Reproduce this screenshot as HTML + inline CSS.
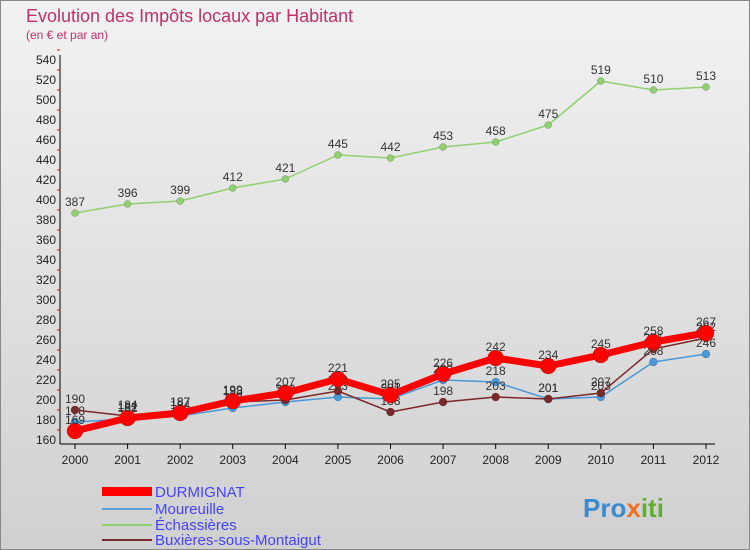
<!DOCTYPE html>
<html><head><meta charset="utf-8"><style>
body{margin:0;font-family:"Liberation Sans",sans-serif}
#c{width:750px;height:550px;position:relative;background:linear-gradient(#f2f2f2,#d0d0d0);}
</style></head><body>
<div id="c">
<svg id="s" width="750" height="550" xmlns="http://www.w3.org/2000/svg" style="position:absolute;left:0;top:0">
<rect x="0.5" y="0.5" width="749" height="549" fill="none" stroke="#888"/>
<text x="26" y="22" font-size="18" fill="#c0306a">Evolution des Impôts locaux par Habitant</text>
<text x="26" y="39" font-size="12" fill="#c0306a">(en € et par an)</text>
<g id="axes"></g><g id="series"></g>
<g>
<rect x="102" y="487" width="50" height="9" fill="#f00"/>
<text x="155" y="497" font-size="15" fill="#44f">DURMIGNAT</text>
<line x1="102" y1="509" x2="152" y2="509" stroke="#5aa0d8" stroke-width="2"/>
<text x="155" y="514" font-size="15" fill="#44f">Moureuille</text>
<line x1="102" y1="525" x2="152" y2="525" stroke="#90d070" stroke-width="2"/>
<text x="155" y="530" font-size="15" fill="#44f">Échassières</text>
<line x1="102" y1="540" x2="152" y2="540" stroke="#7a2a2a" stroke-width="2"/>
<text x="155" y="545" font-size="15" fill="#44f">Buxières-sous-Montaigut</text>
</g>
<text x="583" y="517" font-size="26" font-weight="bold" fill="#3a8ad0">Pro<tspan fill="#f07020">x</tspan><tspan fill="#60b030">iti</tspan></text>
</svg></div>
<script>
const years=[2000,2001,2002,2003,2004,2005,2006,2007,2008,2009,2010,2011,2012];
const durmignat=[169,182,187,199,207,221,205,226,242,234,245,258,267];
const moureuille=[178,181,184,192,198,203,201,220,218,201,203,238,246];
const echassieres=[387,396,399,412,421,445,442,453,458,475,519,510,513];
const buxieres=[190,184,187,198,200,209,188,198,203,201,207,251,262];
const yTicks=[160,180,200,220,240,260,280,300,320,340,360,380,400,420,440,460,480,500,520,540];
const NS="http://www.w3.org/2000/svg";
const X=i=>75+i*(706-75)/12, Y=v=>440-(v-160)*380/380;
function mk(t,a,p){const e=document.createElementNS(NS,t);for(const k in a)e.setAttribute(k,a[k]);p.appendChild(e);return e;}
const ax=document.getElementById('axes'),sr=document.getElementById('series');
let l=mk('line',{x1:60,y1:55,x2:60,y2:444,stroke:'#000'},ax);


l=mk('line',{x1:60,y1:444,x2:715,y2:444,stroke:'#000'},ax);


yTicks.forEach(v=>{const t=mk('text',{x:56,y:Y(v)+4,'font-size':12,'text-anchor':'end',fill:'#222'},ax);t.textContent=v;


const tk=mk('line',{x1:57,y1:Y(v)-10,x2:60,y2:Y(v)-10,stroke:'#f00'},ax);

});
years.forEach((y,i)=>{const t=mk('text',{x:X(i),y:464,'font-size':12,'text-anchor':'middle',fill:'#222'},ax);t.textContent=y;


const tk=mk('line',{x1:X(i),y1:444,x2:X(i),y2:449,stroke:'#000'},ax);

});
function series(d,col,w,r,name){const g=mk('g',{},sr);


const p=mk('polyline',{points:d.map((v,i)=>X(i)+','+Y(v)).join(' '),fill:'none',stroke:col,'stroke-width':w,'stroke-linejoin':'round'},g);


d.forEach((v,i)=>{const c=mk('circle',{cx:X(i),cy:Y(v),r:r,fill:col,stroke:'rgba(0,0,0,0.3)','stroke-width':0.5},g);


const t=mk('text',{x:X(i),y:Y(v)-7,'font-size':12,'text-anchor':'middle',fill:'#333'},g);t.textContent=v;

});}
series(echassieres,'#90d070',1.5,3.5,'echassieres');
series(moureuille,'#4a98d8',1.5,4,'moureuille');
series(buxieres,'#7a2a2a',1.5,4,'buxieres');
series(durmignat,'#f00',7,8,'durmignat');
</script></body></html>
